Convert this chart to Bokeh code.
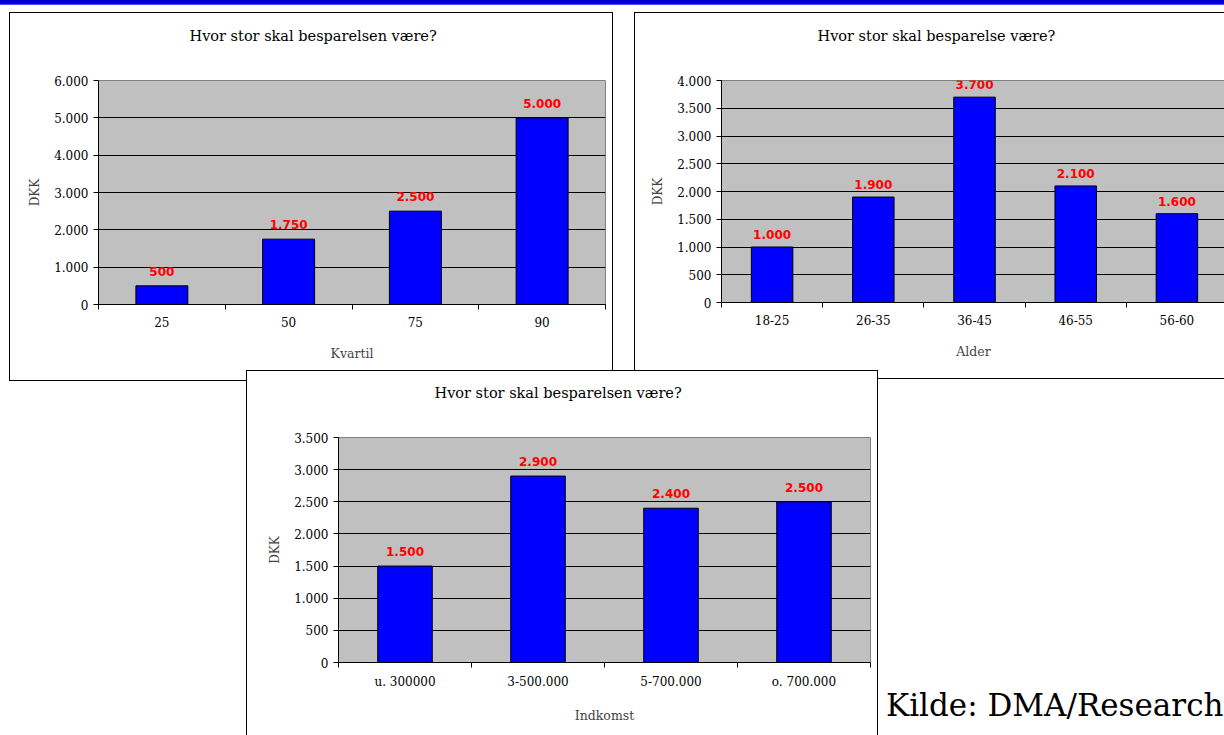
from bokeh.plotting import figure
from bokeh.models import FixedTicker, Div, Range1d, ColumnDataSource, Title
from bokeh.layouts import column, row
from bokeh.embed import file_html
from bokeh.resources import INLINE
from bokeh.core.properties import value

# ---------------- data ----------------
title1 = "Hvor stor skal besparelsen være?"
xlabel1 = "Kvartil"
cats1 = ["25", "50", "75", "90"]
vals1 = [500, 1750, 2500, 5000]
yticks1 = [0, 1000, 2000, 3000, 4000, 5000, 6000]
yticklabels1 = ["0", "1.000", "2.000", "3.000", "4.000", "5.000", "6.000"]

title2 = "Hvor stor skal besparelse være?"
xlabel2 = "Alder"
cats2 = ["18-25", "26-35", "36-45", "46-55", "56-60"]
vals2 = [1000, 1900, 3700, 2100, 1600]
yticks2 = [0, 500, 1000, 1500, 2000, 2500, 3000, 3500, 4000]
yticklabels2 = ["0", "500", "1.000", "1.500", "2.000", "2.500", "3.000", "3.500", "4.000"]

title3 = "Hvor stor skal besparelsen være?"
xlabel3 = "Indkomst"
cats3 = ["u. 300000", "3-500.000", "5-700.000", "o. 700.000"]
vals3 = [1500, 2900, 2400, 2500]
yticks3 = [0, 500, 1000, 1500, 2000, 2500, 3000, 3500]
yticklabels3 = ["0", "500", "1.000", "1.500", "2.000", "2.500", "3.000", "3.500"]

ylabel = "DKK"
source_note = "Kilde: DMA/Research"

SERIF = "DejaVu Serif"


def fmt(v):
    return f"{v:,}".replace(",", ".")


def make_chart(title, title_offset, cats, vals, yticks, yticklabels, xlabel, width, height,
               mb, x_end, styles, margin, lab_off):
    n = len(cats)
    p = figure(width=width, height=height, output_backend="svg", toolbar_location=None,
               x_range=Range1d(0, x_end), y_range=Range1d(yticks[0], yticks[-1]),
               min_border_left=mb[0], min_border_right=mb[1],
               min_border_top=mb[2], min_border_bottom=mb[3],
               background_fill_color="#C0C0C0", border_fill_color="white",
               outline_line_color="#808080", outline_line_width=1,
               margin=margin, styles=styles)
    xs = [i + 0.5 for i in range(n)]
    src = ColumnDataSource(dict(x=xs, top=vals, lab=[fmt(v) for v in vals]))
    p.vbar(x="x", top="top", bottom=0, width=0.41, source=src,
           fill_color="#0000FF", line_color="black", line_width=1)
    p.text(x="x", y="top", text="lab", source=src, text_color="#FF0000",
           text_font=value("DejaVu Sans"), text_font_style="bold",
           text_font_size="12px", text_align="center", text_baseline="bottom",
           y_offset=lab_off)

    # spacer between frame and title (nearest to the frame)
    p.add_layout(Title(text=" ", standoff=13, text_font=SERIF, text_font_size="14.5px"), "above")
    p.title.text = title
    p.title.align = "left"
    p.title.offset = title_offset
    p.title.standoff = 10
    p.title.text_font = SERIF
    p.title.text_font_style = "normal"
    p.title.text_font_size = "14.5px"
    p.title.text_color = "black"

    xa = p.xaxis[0]
    xa.ticker = FixedTicker(ticks=xs, minor_ticks=list(range(n + 1)))
    xa.major_label_overrides = {x: c for x, c in zip(xs, cats)}
    xa.major_tick_line_color = None
    xa.major_tick_out = 0
    xa.minor_tick_line_color = "black"
    xa.minor_tick_in = 0
    xa.minor_tick_out = 5
    xa.axis_line_color = "black"
    xa.major_label_text_font = SERIF
    xa.major_label_text_font_size = "12px"
    xa.major_label_text_color = "black"
    xa.major_label_standoff = 7
    xa.axis_label = xlabel
    xa.axis_label_text_font = SERIF
    xa.axis_label_text_font_style = "normal"
    xa.axis_label_text_font_size = "12.5px"
    xa.axis_label_standoff = 16

    ya = p.yaxis[0]
    ya.ticker = FixedTicker(ticks=yticks)
    ya.major_label_overrides = {t: l for t, l in zip(yticks, yticklabels)}
    ya.major_tick_in = 0
    ya.major_tick_out = 5
    ya.major_tick_line_color = "black"
    ya.minor_tick_line_color = None
    ya.axis_line_color = "black"
    ya.major_label_text_font = SERIF
    ya.major_label_text_font_size = "12px"
    ya.major_label_text_color = "black"
    ya.major_label_standoff = 5
    ya.axis_label = ylabel
    ya.axis_label_text_font = SERIF
    ya.axis_label_text_font_style = "normal"
    ya.axis_label_text_font_size = "12px"
    ya.axis_label_standoff = 9

    p.xgrid.grid_line_color = None
    p.ygrid.grid_line_color = "black"
    p.ygrid.grid_line_width = 1
    return p


topbar = Div(text="", width=1224, height=5, margin=0,
             styles={"background": "linear-gradient(to bottom, #0000c8 0%, #0000e8 70%, #7070ff 100%)"})

p1 = make_chart(title1, 91, cats1, vals1, yticks1, yticklabels1, xlabel1,
                604, 369, (88, 9, 67, 78), 4,
                {"border": "1px solid black"}, (7, 0, 0, 9), -10)
p2 = make_chart(title2, 96, cats2, vals2, yticks2, yticklabels2, xlabel2,
                590, 367, (86, 0, 67, 76), 4.98,
                {"border-left": "1px solid black", "border-top": "1px solid black",
                 "border-bottom": "1px solid black"}, (7, 0, 0, 21), -8)
p3 = make_chart(title3, 96, cats3, vals3, yticks3, yticklabels3, xlabel3,
                632, 365, (91, 9, 66, 74), 4,
                {"border-left": "1px solid black", "border-top": "1px solid black",
                 "border-right": "1px solid black", "background": "white"},
                (-11, 0, 0, 246), -10)

note = Div(text=(f'<div style="padding:309px 0 0 8px; font-family:\'DejaVu Serif\'; '
                 f'font-size:31px; line-height:31px; white-space:nowrap; color:black">'
                 f'{source_note}</div>'),
           width=346, height=354, margin=0)

layout = column(topbar, row(p1, p2, spacing=0), row(p3, note, spacing=0), spacing=0)

open("out.html", "w").write(file_html(layout, INLINE))
